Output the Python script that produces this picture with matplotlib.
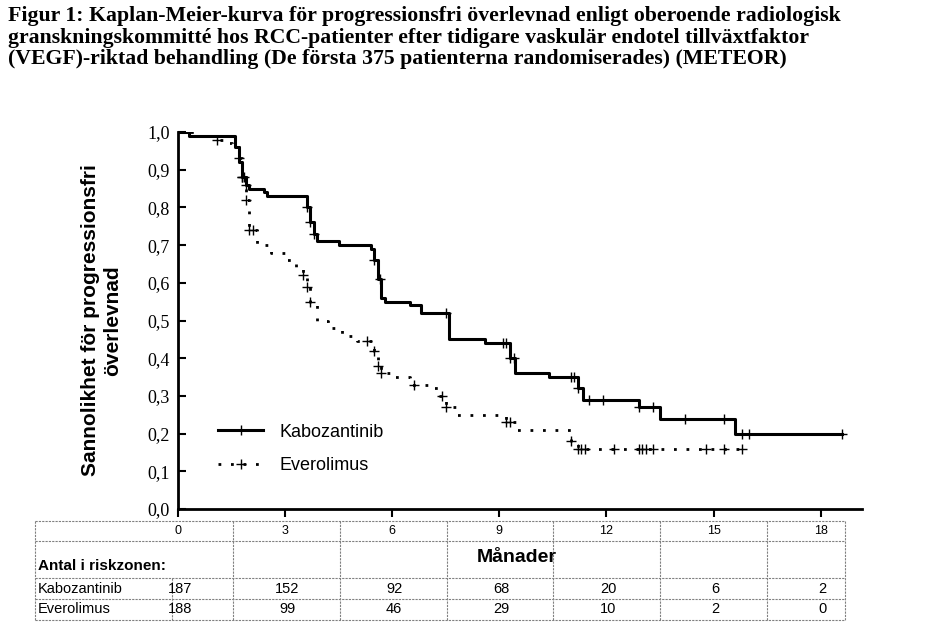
import numpy as np
import matplotlib
matplotlib.use("Agg")
import matplotlib.pyplot as plt
from matplotlib.lines import Line2D

plt.rcParams['font.family'] = ['Liberation Sans', 'DejaVu Sans']

# Kaplan-Meier steps (month, survival)
kabo_t = [0, 0.3, 1.5, 1.6, 1.7, 1.8, 1.9, 2.0, 2.4, 2.5, 3.5, 3.6, 3.7, 3.8, 3.9, 4.5, 5.4, 5.5, 5.6, 5.7, 5.8,
          6.5, 6.8, 7.5, 7.6, 8.6, 9.15, 9.3, 9.45, 10.4, 11.0, 11.2, 11.35, 12.9, 13.5, 15.6, 18.6]
kabo_s = [1.0, 0.99, 0.99, 0.96, 0.92, 0.88, 0.86, 0.85, 0.84, 0.83, 0.83, 0.80, 0.76, 0.73, 0.71, 0.70, 0.69, 0.66,
          0.61, 0.56, 0.55, 0.54, 0.52, 0.52, 0.45, 0.44, 0.44, 0.40, 0.36, 0.35, 0.35, 0.32, 0.29, 0.27, 0.24, 0.20, 0.20]
kabo_cens = [1.8, 1.9, 3.6, 3.7, 3.8, 5.5, 5.65, 7.5, 9.1, 9.2, 9.3, 9.4, 11.0, 11.1, 11.2, 11.5, 11.9, 12.9, 13.3,
             14.2, 15.3, 15.8, 16.0, 18.6]
ever_t = [0, 0.5, 1.0, 1.3, 1.5, 1.7, 1.8, 1.9, 2.0, 2.2, 2.6, 3.0, 3.3, 3.5, 3.6, 3.7, 3.9, 4.2, 4.6, 5.0, 5.4,
          5.5, 5.6, 5.7, 6.0, 6.5, 7.0, 7.3, 7.5, 7.8, 9.0, 9.2, 9.5, 10.8, 11.0, 11.2, 15.8]
ever_s = [1.0, 0.99, 0.98, 0.97, 0.96, 0.93, 0.88, 0.82, 0.74, 0.70, 0.68, 0.66, 0.64, 0.62, 0.59, 0.55, 0.50, 0.48,
          0.46, 0.445, 0.445, 0.42, 0.38, 0.36, 0.35, 0.33, 0.32, 0.30, 0.27, 0.25, 0.25, 0.23, 0.21, 0.21, 0.18, 0.16, 0.16]
ever_cens = [1.1, 1.7, 1.8, 1.85, 1.9, 2.0, 2.1, 3.5, 3.6, 3.7, 5.3, 5.5, 5.6, 5.7, 6.6, 7.4, 7.5, 9.2, 9.3, 11.0,
             11.2, 11.3, 11.4, 12.2, 12.9, 13.0, 13.1, 13.3, 14.8, 15.3, 15.8]

months = [0, 3, 6, 9, 12, 15, 18]
risk_kabo = [187, 152, 92, 68, 20, 6, 2]
risk_ever = [188, 99, 46, 29, 10, 2, 0]

W, H = 934, 636
fig = plt.figure(figsize=(W / 100, H / 100), dpi=100)

def fx(px):
    return px / W

def fy(py):
    return 1 - py / H

fig.text(fx(8), fy(6), "Figur 1: Kaplan-Meier-kurva för progressionsfri överlevnad enligt oberoende radiologisk\n"
         "granskningskommitté hos RCC-patienter efter tidigare vaskulär endotel tillväxtfaktor\n"
         "(VEGF)-riktad behandling (De första 375 patienterna randomiserades) (METEOR)",
         family='Liberation Serif', fontweight='bold', fontsize=15.7, va='top', ha='left', linespacing=1.1)

x0, x1, y0, y1 = 178, 862, 509, 132
ax = fig.add_axes([fx(x0), fy(y0), fx(x1 - x0), fy(y1) - fy(y0)])
xmax = (x1 - x0) / 35.7
ax.set_xlim(0, xmax)
ax.set_ylim(0, 1.0)

def surv_at(t, s, c):
    i = np.searchsorted(t, c, side='right') - 1
    return s[max(i, 0)]

ax.step(kabo_t, kabo_s, where='post', color='black', lw=2.2)
ax.plot(kabo_cens, [surv_at(kabo_t, kabo_s, c) for c in kabo_cens], ls='none', marker='|', ms=7, color='black', mew=1)
ax.plot(kabo_cens, [surv_at(kabo_t, kabo_s, c) for c in kabo_cens], ls='none', marker='_', ms=7, color='black', mew=1)
ax.step(ever_t, ever_s, where='post', color='black', lw=2, ls=(0, (1, 3.5)))
ax.plot(ever_cens, [surv_at(ever_t, ever_s, c) for c in ever_cens], ls='none', marker='+', ms=7, color='black', mew=1)

ax.spines['top'].set_visible(False)
ax.spines['right'].set_visible(False)
for sp in ('left', 'bottom'):
    ax.spines[sp].set_linewidth(2)
ax.set_xticks(months)
ax.set_xticklabels([])
ax.tick_params(axis='x', direction='out', length=6, width=1.5)
ax.set_yticks(np.arange(0, 1.01, 0.1))
ax.set_yticklabels([f"{v:.1f}".replace('.', ',') for v in np.arange(0, 1.01, 0.1)],
                   family='Liberation Serif', fontsize=13)
ax.tick_params(axis='y', direction='in', length=6, width=1.5, pad=6)
ax.set_ylabel("Sannolikhet för progressionsfri\növerlevnad", fontsize=15, fontweight='bold', labelpad=18)

h1 = Line2D([], [], color='black', lw=2.2, marker='+', ms=7)
h2 = Line2D([], [], color='black', lw=2, ls=(0, (1, 3.5)), marker='+', ms=7)
ax.legend([h1, h2], ["Kabozantinib", "Everolimus"], loc='lower left', bbox_to_anchor=(0.035, 0.05),
          frameon=False, fontsize=13, handlelength=2.5, labelspacing=0.9, handletextpad=0.9)

# risk table
rows = [521, 541, 578, 599, 620]
cols = [35, 233, 340, 447, 553, 660, 767, 845]
ls = dict(color='gray', lw=0.8, ls=(0, (2, 1)))
for r in rows:
    fig.add_artist(Line2D([fx(35), fx(845)], [fy(r), fy(r)], **ls))
for c in cols:
    fig.add_artist(Line2D([fx(c), fx(c)], [fy(521), fy(620)], **ls))
fig.add_artist(Line2D([fx(172), fx(172)], [fy(578), fy(620)], **ls))

px_per_m = 35.7
for m, k, e in zip(months, risk_kabo, risk_ever):
    xp = x0 + m * px_per_m
    fig.text(fx(xp), fy(531), str(m), fontsize=9, ha='center', va='center')
    fig.text(fx(xp + 2), fy(589), str(k), fontsize=10.5, ha='center', va='center')
    fig.text(fx(xp + 2), fy(609), str(e), fontsize=10.5, ha='center', va='center')
fig.text(fx(38), fy(566), "Antal i riskzonen:", fontsize=11, fontweight='bold', va='center')
fig.text(fx(517), fy(557), "Månader", fontsize=14, fontweight='bold', ha='center', va='center')
fig.text(fx(38), fy(589), "Kabozantinib", fontsize=10.5, va='center')
fig.text(fx(38), fy(609), "Everolimus", fontsize=10.5, va='center')

fig.savefig("out.png", dpi=100)
